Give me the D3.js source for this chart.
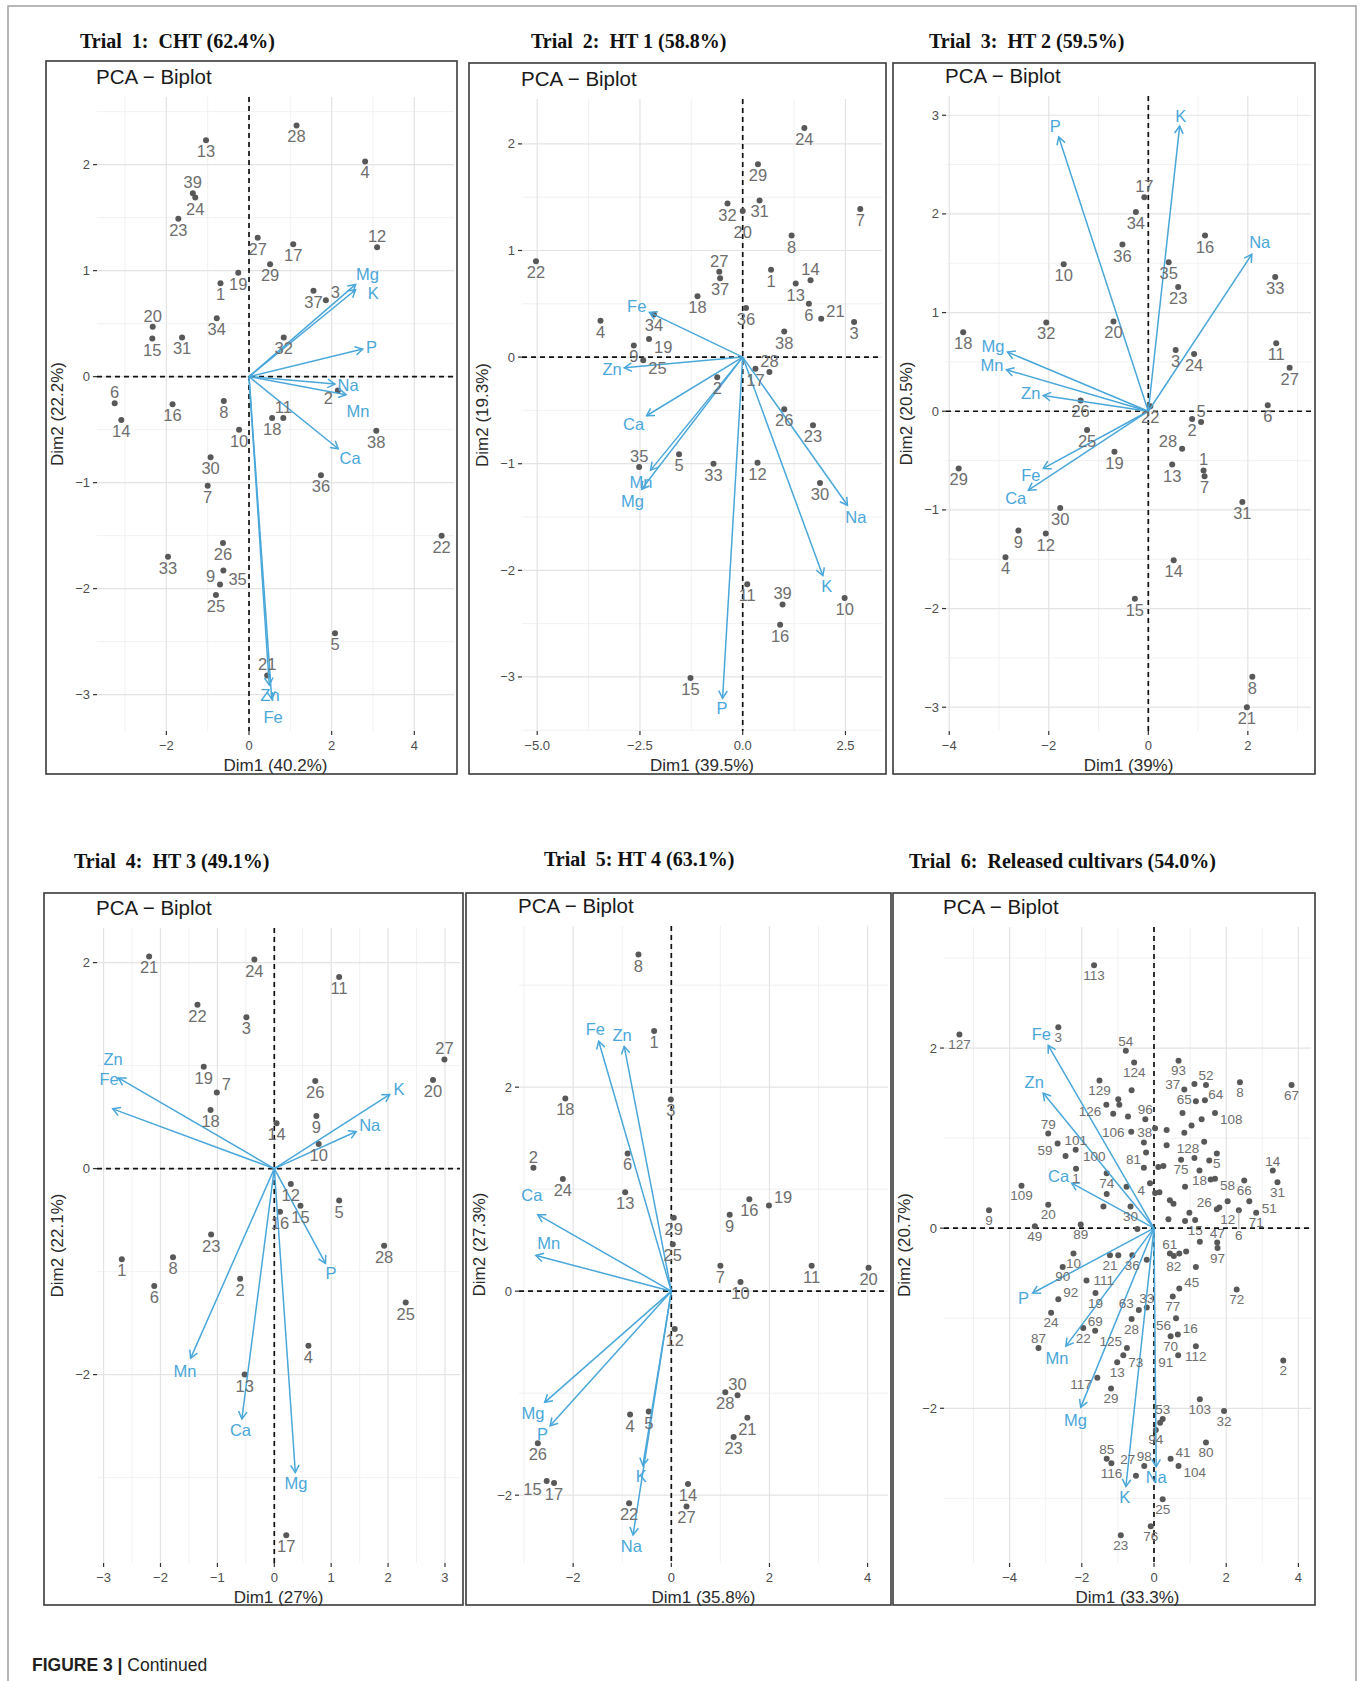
<!DOCTYPE html>
<html><head><meta charset="utf-8">
<script src="https://cdn.jsdelivr.net/npm/d3@7"></script>
<style>body{margin:0;background:#fff}svg{display:block}</style>
</head><body>
<svg id="fig" width="1363" height="1681"></svg>
<script>
// ---------------- DATA ----------------
const trial1Genotypes = ["28","13","4","39","24","23","27","17","12","19","29","1","37","3","34","20","15","31","32","2","6","14","16","8","18","11","10","38","36","30","7","26","35","9","25","33","22","5","21"];
const trial1Dim1 = [1.15,-1.04,2.81,-1.36,-1.30,-1.71,0.21,1.07,3.10,-0.26,0.51,-0.69,1.56,1.86,-0.78,-2.33,-2.34,-1.62,0.84,2.15,-3.25,-3.09,-1.85,-0.61,0.56,0.83,-0.24,3.08,1.74,-0.93,-1.00,-0.63,-0.62,-0.70,-0.80,-1.96,4.66,2.08,0.44];
const trial1Dim2 = [2.37,2.23,2.03,1.73,1.69,1.49,1.31,1.25,1.22,0.98,1.06,0.88,0.81,0.72,0.55,0.47,0.36,0.37,0.37,-0.13,-0.25,-0.41,-0.26,-0.23,-0.39,-0.39,-0.50,-0.51,-0.93,-0.76,-1.03,-1.57,-1.83,-1.96,-2.06,-1.70,-1.50,-2.42,-2.82];
const trial1Minerals = ["Mg","K","P","Na","Mn","Ca","Zn","Fe"];
const trial1MinDim1 = [2.58,2.58,2.75,2.08,2.35,2.16,0.49,0.55];
const trial1MinDim2 = [0.87,0.82,0.26,-0.07,-0.17,-0.68,-2.91,-3.04];
const trial1XTicks = [-2,0,2,4], trial1YTicks = [-3,-2,-1,0,1,2];

const trial2Genotypes = ["24","29","31","7","32","20","8","22","27","37","1","13","14","6","18","34","4","36","3","21","38","9","19","25","17","2","28","26","23","30","5","33","35","12","11","39","16","10","15"];
const trial2Dim1 = [1.50,0.37,0.41,2.86,-0.37,0.00,1.19,-5.03,-0.57,-0.55,0.69,1.29,1.65,1.61,-1.10,-2.16,-3.46,0.08,2.71,1.91,1.01,-2.65,-2.28,-2.42,0.31,-0.62,0.65,1.01,1.71,1.88,-1.55,-0.71,-2.52,0.36,0.11,0.97,0.91,2.48,-1.27];
const trial2Dim2 = [2.15,1.81,1.47,1.39,1.44,1.37,1.14,0.90,0.80,0.74,0.82,0.69,0.72,0.50,0.57,0.40,0.34,0.46,0.33,0.36,0.24,0.11,0.17,-0.03,-0.11,-0.19,-0.14,-0.49,-0.64,-1.18,-0.91,-1.00,-1.03,-0.99,-2.13,-2.32,-2.51,-2.26,-3.01];
const trial2Minerals = ["Fe","Zn","Ca","Mn","Mg","P","K","Na"];
const trial2MinDim1 = [-2.27,-2.88,-2.34,-2.24,-2.46,-0.49,1.95,2.55];
const trial2MinDim2 = [0.42,-0.10,-0.55,-1.06,-1.24,-3.20,-2.05,-1.39];
const trial2XTicks = [-5,-2.5,0,2.5], trial2YTicks = [-3,-2,-1,0,1,2];

const trial3Genotypes = ["17","34","36","16","35","10","33","23","20","32","18","11","3","24","27","6","26","22","25","2","5","28","29","19","13","1","7","30","31","9","12","4","14","15","8","21"];
const trial3Dim1 = [-0.08,-0.25,-0.52,1.14,0.41,-1.70,2.55,0.60,-0.70,-2.05,-3.72,2.57,0.55,0.92,2.84,2.40,-1.36,0.04,-1.23,0.88,1.06,0.68,-3.81,-0.68,0.48,1.11,1.13,-1.77,1.89,-2.61,-2.06,-2.87,0.51,-0.27,2.09,1.98];
const trial3Dim2 = [2.17,2.02,1.69,1.78,1.51,1.49,1.36,1.26,0.91,0.90,0.80,0.69,0.62,0.58,0.44,0.06,0.11,0.05,-0.19,-0.08,-0.11,-0.38,-0.58,-0.41,-0.54,-0.60,-0.66,-0.98,-0.92,-1.21,-1.24,-1.48,-1.51,-1.90,-2.69,-3.00];
const trial3Minerals = ["P","K","Na","Mg","Mn","Zn","Fe","Ca"];
const trial3MinDim1 = [-1.80,0.63,2.08,-2.83,-2.85,-2.11,-2.11,-2.41];
const trial3MinDim2 = [2.78,2.89,1.59,0.60,0.42,0.16,-0.58,-0.80];
const trial3XTicks = [-4,-2,0,2], trial3YTicks = [-3,-2,-1,0,1,2,3];

const trial4Genotypes = ["21","24","11","22","3","27","20","19","26","7","18","14","9","10","12","15","5","16","23","8","1","28","6","2","25","4","13","17"];
const trial4Dim1 = [-2.20,-0.35,1.14,-1.35,-0.49,2.99,2.79,-1.24,0.72,-1.01,-1.12,0.04,0.74,0.78,0.29,0.46,1.14,0.10,-1.11,-1.78,-2.68,1.93,-2.11,-0.60,2.31,0.60,-0.52,0.21];
const trial4Dim2 = [2.06,2.03,1.86,1.59,1.47,1.06,0.86,0.99,0.85,0.74,0.57,0.44,0.51,0.24,-0.15,-0.36,-0.31,-0.42,-0.64,-0.86,-0.88,-0.75,-1.14,-1.07,-1.30,-1.72,-2.00,-3.56];
const trial4Minerals = ["Zn","Fe","K","Na","P","Mn","Ca","Mg"];
const trial4MinDim1 = [-2.74,-2.84,2.03,1.44,0.90,-1.47,-0.57,0.37];
const trial4MinDim2 = [0.88,0.58,0.72,0.36,-0.92,-1.84,-2.43,-2.95];
const trial4XTicks = [-3,-2,-1,0,1,2,3], trial4YTicks = [-2,0,2];

const trial5Genotypes = ["8","1","3","18","6","2","24","13","29","25","16","19","9","7","10","11","20","12","28","30","21","23","5","4","26","15","17","14","22","27"];
const trial5Dim1 = [-0.67,-0.35,-0.01,-2.16,-0.89,-2.81,-2.21,-0.94,0.05,0.03,1.59,1.99,1.19,1.00,1.41,2.86,4.02,0.07,1.10,1.35,1.55,1.27,-0.46,-0.84,-2.72,-2.54,-2.39,0.34,-0.86,0.31];
const trial5Dim2 = [3.30,2.55,1.88,1.89,1.35,1.21,1.10,0.97,0.72,0.46,0.90,0.84,0.75,0.25,0.09,0.25,0.23,-0.37,-0.99,-1.02,-1.24,-1.43,-1.18,-1.21,-1.49,-1.86,-1.88,-1.89,-2.08,-2.11];
const trial5Minerals = ["Fe","Zn","Ca","Mn","Mg","P","K","Na"];
const trial5MinDim1 = [-1.48,-0.96,-2.72,-2.76,-2.58,-2.47,-0.58,-0.78];
const trial5MinDim2 = [2.45,2.40,0.75,0.35,-1.09,-1.32,-1.71,-2.39];
const trial5XTicks = [-2,0,2,4], trial5YTicks = [-2,0,2];

const trial6Genotypes = ["113","127","3","54","124","93","129","37","52","8","67","","65","","","126","64","","106","","96","","","108","","","","38","","79","59","101","100","128","","","81","5","75","","","1","","","","18","14","74","66","58","","31","109","4","","","","","","12","51","","","20","30","","26","","9","71","6","","15","","","89","49","","47","97","61","82","","","","","10","90","21","","36","","111","19","92","24","45","72","77","63","33","22","56","28","69","16","70","87","125","73","112","91","2","13","117","29","103","32","53","","94","80","85","116","41","98","27","104","25","76","23"];
const trial6Dim1 = [-1.66,-5.39,-2.65,-0.78,-0.55,0.68,-1.51,1.12,1.44,2.38,3.81,-0.62,0.84,-0.99,-0.96,-1.32,1.16,1.41,-1.13,-0.72,-0.24,0.79,1.32,1.69,1.04,0.03,0.35,-0.63,0.84,-2.93,-2.67,-2.17,-2.45,1.39,-0.28,0.35,-0.22,1.74,0.75,1.12,1.53,-2.16,-0.28,0.12,0.26,1.26,3.29,-1.31,2.50,1.69,1.57,3.42,-3.67,-0.11,-0.76,0.86,0.03,0.15,-1.31,2.04,2.64,0.44,0.54,-2.93,-0.65,-1.40,1.74,1.81,-4.57,2.83,2.35,0.98,1.14,0.40,0.86,-2.03,-3.30,-0.46,1.75,1.76,0.44,0.55,0.70,0.89,1.27,1.16,-2.23,-2.53,-1.22,-0.99,-0.60,-0.20,-1.87,-1.62,-2.65,-2.85,0.70,2.29,0.52,-0.42,-0.20,-1.96,0.61,-0.62,-1.63,0.66,0.46,-3.20,-0.75,-0.85,1.16,0.67,3.58,-1.02,-1.57,-1.19,1.27,1.94,0.24,0.17,0.05,1.44,-1.31,-1.18,0.46,-0.27,-0.50,0.68,0.24,-0.09,-0.92];
const trial6Dim2 = [2.92,2.15,2.23,1.97,1.84,1.86,1.64,1.60,1.59,1.62,1.59,1.53,1.54,1.43,1.37,1.37,1.41,1.42,1.27,1.24,1.21,1.28,1.21,1.28,1.14,1.11,1.09,1.07,1.06,1.05,0.94,0.87,0.80,0.96,0.95,0.92,0.84,0.83,0.76,0.78,0.75,0.66,0.67,0.68,0.69,0.64,0.64,0.61,0.53,0.55,0.54,0.51,0.47,0.50,0.46,0.46,0.39,0.40,0.38,0.30,0.30,0.31,0.27,0.26,0.24,0.24,0.21,0.23,0.20,0.17,0.20,0.17,0.09,0.10,0.08,0.04,0.02,-0.01,-0.16,-0.22,-0.28,-0.31,-0.28,-0.26,-0.15,-0.43,-0.28,-0.43,-0.30,-0.30,-0.30,-0.35,-0.58,-0.72,-0.79,-0.94,-0.67,-0.68,-0.76,-0.91,-0.88,-1.11,-1.00,-1.01,-1.14,-1.18,-1.20,-1.33,-1.33,-1.41,-1.31,-1.41,-1.47,-1.49,-1.66,-1.78,-1.90,-2.03,-2.12,-2.16,-2.24,-2.38,-2.56,-2.61,-2.56,-2.64,-2.75,-2.64,-3.01,-3.31,-3.41];
const trial6Minerals = ["Fe","Zn","Ca","P","Mn","Mg","K","Na"];
const trial6MinDim1 = [-2.93,-3.07,-2.28,-3.36,-2.44,-2.03,-0.78,0.06];
const trial6MinDim2 = [2.03,1.50,0.50,-0.72,-1.31,-1.99,-2.87,-2.65];
const trial6XTicks = [-4,-2,0,2,4], trial6YTicks = [-2,0,2];

const trialTitles = ["Trial  1:  CHT (62.4%)","Trial  2:  HT 1 (58.8%)","Trial  3:  HT 2 (59.5%)","Trial  4:  HT 3 (49.1%)","Trial  5: HT 4 (63.1%)","Trial  6:  Released cultivars (54.0%)"];
const dim1Labels = ["Dim1 (40.2%)","Dim1 (39.5%)","Dim1 (39%)","Dim1 (27%)","Dim1 (35.8%)","Dim1 (33.3%)"];
const dim2Labels = ["Dim2 (22.2%)","Dim2 (19.3%)","Dim2 (20.5%)","Dim2 (22.1%)","Dim2 (27.3%)","Dim2 (20.7%)"];

// ---------------- LAYOUT ----------------
const layout = [
  {title:[80,48], frame:[46,61,457,774], plot:[97,97,454,731], xDom:[-3.678,4.960], yDom:[-3.343,2.638], fs:16.5, xfmt:"d"},
  {title:[531,48], frame:[469,63,886,774], plot:[522,99,882,731], xDom:[-5.370,3.389], yDom:[-3.507,2.421], fs:16.5, xfmt:".1f"},
  {title:[929,48], frame:[893,63,1315,774], plot:[946,96,1311,731], xDom:[-4.065,3.269], yDom:[-3.241,3.195], fs:16.5, xfmt:"d"},
  {title:[74,868], frame:[44,893,463,1605], plot:[97,928,460,1563], xDom:[-3.116,3.264], yDom:[-3.829,2.336], fs:16.5, xfmt:"d"},
  {title:[544,866], frame:[466,893,891,1605], plot:[519,926,888,1563], xDom:[-3.104,4.416], yDom:[-2.665,3.580], fs:16.5, xfmt:"d"},
  {title:[909,868], frame:[893,893,1315,1605], plot:[944,927,1311,1563], xDom:[-5.817,4.349], yDom:[-3.718,3.344], fs:13.5, xfmt:"d"}
];
const trials = [
  [trial1Genotypes,trial1Dim1,trial1Dim2,trial1Minerals,trial1MinDim1,trial1MinDim2,trial1XTicks,trial1YTicks],
  [trial2Genotypes,trial2Dim1,trial2Dim2,trial2Minerals,trial2MinDim1,trial2MinDim2,trial2XTicks,trial2YTicks],
  [trial3Genotypes,trial3Dim1,trial3Dim2,trial3Minerals,trial3MinDim1,trial3MinDim2,trial3XTicks,trial3YTicks],
  [trial4Genotypes,trial4Dim1,trial4Dim2,trial4Minerals,trial4MinDim1,trial4MinDim2,trial4XTicks,trial4YTicks],
  [trial5Genotypes,trial5Dim1,trial5Dim2,trial5Minerals,trial5MinDim1,trial5MinDim2,trial5XTicks,trial5YTicks],
  [trial6Genotypes,trial6Dim1,trial6Dim2,trial6Minerals,trial6MinDim1,trial6MinDim2,trial6XTicks,trial6YTicks]
];

const SANS = "'Liberation Sans', Arial, Helvetica, sans-serif";
const SERIF = "'Liberation Serif', 'Times New Roman', serif";
const BLUE = "#4aa7da";
const svg = d3.select("#fig");

svg.append("path").attr("d","M8,1681V6H1356V1681").attr("fill","none").attr("stroke","#a0a0a0").attr("stroke-width",1.5);
svg.append("text").attr("x",32).attr("y",1671).attr("font-family",SANS).attr("font-size",17.5).attr("fill","#231f20")
  .call(t=>{t.append("tspan").attr("font-weight","bold").text("FIGURE 3 | ");t.append("tspan").text("Continued");});

function textW(s, fs){ // Arial-metric width estimate
  let w=0; for(const ch of s){ w += /[0-9]/.test(ch)?0.556: ({M:0.833,g:0.556,K:0.667,P:0.667,N:0.722,a:0.556,n:0.556,C:0.722,F:0.611,e:0.556,Z:0.611,z:0.5,m:0.833}[ch]||0.6);} return w*fs;
}
function overlap(a,b){const w=Math.min(a.x1,b.x1)-Math.max(a.x0,b.x0);const h=Math.min(a.y1,b.y1)-Math.max(a.y0,b.y0);return (w>0&&h>0)?w*h:0;}

function placeAll(items, placed, pts, bounds){
  items.forEach(it=>{
    let best=null,bestCost=Infinity;
    it.cands.forEach((c,i)=>{
      const cx=it.ax+c[0], cy=it.ay+c[1];
      const r={x0:cx-it.w/2,x1:cx+it.w/2,y0:cy-it.h/2,y1:cy+it.h/2};
      let cost=i*0.15+(c[2]?10*c[2]:0);
      for(const p of placed){ const o=overlap({x0:r.x0-1.5,x1:r.x1+1.5,y0:r.y0-1,y1:r.y1+1},p); if(o>0) cost+=80+o*5; }
      for(const q of pts){ if(q.x>r.x0-2.5&&q.x<r.x1+2.5&&q.y>r.y0-2&&q.y<r.y1+2) cost+=25; }
      const ob=Math.max(0,bounds[0]-r.x0)+Math.max(0,r.x1-bounds[2])+Math.max(0,bounds[1]-r.y0)+Math.max(0,r.y1-bounds[3]);
      cost+=ob*80;
      if(cost<bestCost){bestCost=cost;best={cx,cy,r,leader:c[2]};}
    });
    it.pos=best; placed.push(best.r);
  });
}

layout.forEach((L,k)=>{
  const [labs,d1,d2,mins,m1,m2,xt,yt]=trials[k];
  const g=svg.append("g");
  const [x0,y0,x1,y1]=L.plot;
  const x=d3.scaleLinear().domain(L.xDom).range([x0,x1]);
  const y=d3.scaleLinear().domain(L.yDom).range([y1,y0]);

  // titles
  g.append("text").attr("x",L.title[0]).attr("y",L.title[1]).attr("font-family",SERIF).attr("font-weight","bold")
    .attr("font-size",20).attr("fill","#111").style("white-space","pre").text(trialTitles[k]);
  g.append("rect").attr("x",L.frame[0]).attr("y",L.frame[1]).attr("width",L.frame[2]-L.frame[0]).attr("height",L.frame[3]-L.frame[1])
    .attr("fill","none").attr("stroke","#3a3a3a").attr("stroke-width",1.6);
  g.append("text").attr("x",x0-1).attr("y",y0-13).attr("font-family",SANS).attr("font-size",20.5).attr("fill","#1a1a1a").text("PCA − Biplot");

  // grid
  const minors=(ticks,dom)=>{const s=ticks[1]-ticks[0];const out=[];ticks.forEach(t=>out.push(t-s/2));out.push(ticks[ticks.length-1]+s/2);return out.filter(v=>v>dom[0]&&v<dom[1]);};
  const grid=g.append("g");
  minors(xt,L.xDom).forEach(v=>grid.append("line").attr("x1",x(v)).attr("x2",x(v)).attr("y1",y0).attr("y2",y1).attr("stroke","#eeeeee").attr("stroke-width",0.8));
  minors(yt,L.yDom).forEach(v=>grid.append("line").attr("y1",y(v)).attr("y2",y(v)).attr("x1",x0).attr("x2",x1).attr("stroke","#eeeeee").attr("stroke-width",0.8));
  xt.forEach(v=>grid.append("line").attr("x1",x(v)).attr("x2",x(v)).attr("y1",y0).attr("y2",y1).attr("stroke","#e3e3e3").attr("stroke-width",1.2));
  yt.forEach(v=>grid.append("line").attr("y1",y(v)).attr("y2",y(v)).attr("x1",x0).attr("x2",x1).attr("stroke","#e3e3e3").attr("stroke-width",1.2));

  // axes ticks + labels
  const xf=d3.format(L.xfmt), yf=d3.format("d");
  const ax=g.append("g").attr("font-family",SANS).attr("font-size",13).attr("fill","#4d4d4d");
  xt.forEach(v=>{
    ax.append("line").attr("x1",x(v)).attr("x2",x(v)).attr("y1",y1).attr("y2",y1+4).attr("stroke","#333").attr("stroke-width",1.2);
    ax.append("text").attr("x",x(v)).attr("y",y1+19).attr("text-anchor","middle").text(xf(v));
  });
  yt.forEach(v=>{
    ax.append("line").attr("x1",x0-4).attr("x2",x0).attr("y1",y(v)).attr("y2",y(v)).attr("stroke","#333").attr("stroke-width",1.2);
    ax.append("text").attr("x",x0-7).attr("y",y(v)+4.5).attr("text-anchor","end").text(yf(v));
  });
  g.append("text").attr("x",(x0+x1)/2).attr("y",y1+40).attr("text-anchor","middle").attr("font-family",SANS).attr("font-size",17).attr("fill","#2b2b2b").text(dim1Labels[k]);
  g.append("text").attr("transform",`translate(${x0-34},${(y0+y1)/2}) rotate(-90)`).attr("text-anchor","middle").attr("font-family",SANS).attr("font-size",17).attr("fill","#2b2b2b").text(dim2Labels[k]);

  // zero lines
  g.append("line").attr("x1",x0).attr("x2",x1).attr("y1",y(0)).attr("y2",y(0)).attr("stroke","#111").attr("stroke-width",1.7).attr("stroke-dasharray","5,4");
  g.append("line").attr("y1",y0).attr("y2",y1).attr("x1",x(0)).attr("x2",x(0)).attr("stroke","#111").attr("stroke-width",1.7).attr("stroke-dasharray","5,4");

  // points
  const pts=labs.map((l,i)=>({l,x:x(d1[i]),y:y(d2[i])}));
  g.append("g").selectAll("circle").data(pts).join("circle").attr("cx",d=>d.x).attr("cy",d=>d.y).attr("r",3).attr("fill","#585858");

  // arrows
  const ox=x(0), oy=y(0);
  const arr=g.append("g").attr("stroke",BLUE).attr("stroke-width",1.5).attr("fill","none");
  const vItems=[];
  mins.forEach((m,i)=>{
    const ex=x(m1[i]), ey=y(m2[i]);
    const ang=Math.atan2(ey-oy,ex-ox), hl=8.5, a=Math.PI/6;
    arr.append("line").attr("x1",ox).attr("y1",oy).attr("x2",ex).attr("y2",ey);
    arr.append("path").attr("d",`M${ex-hl*Math.cos(ang-a)},${ey-hl*Math.sin(ang-a)}L${ex},${ey}L${ex-hl*Math.cos(ang+a)},${ey-hl*Math.sin(ang+a)}`);
    const fs=16.5, w=textW(m,fs), h=fs*0.95;
    const ux=Math.cos(ang), uy=Math.sin(ang), px=-uy, py=ux;
    const kk=Math.abs(ux)*w/2+Math.abs(uy)*h/2+2;
    const cands=[[ux*kk,uy*kk],[ux*kk+px*h*0.9,uy*kk+py*h*0.9],[ux*kk-px*h*0.9,uy*kk-py*h*0.9],[ux*(kk+8),uy*(kk+8)],[ux*kk+px*h*1.7,uy*kk+py*h*1.7],[ux*kk-px*h*1.7,uy*kk-py*h*1.7],[-ux*kk*0.6+px*h,-uy*kk*0.6+py*h],[-ux*kk*0.6-px*h,-uy*kk*0.6-py*h]];
    vItems.push({m,ax:ex,ay:ey,w,h,fs,cands});
  });
  const placed=[];
  const bounds=[x0,y0,x1,y1];
  placeAll(vItems,placed,[],bounds);
  vItems.forEach(v=>g.append("text").attr("x",v.pos.cx).attr("y",v.pos.cy+0.36*v.fs).attr("text-anchor","middle").attr("font-family",SANS).attr("font-size",v.fs).attr("fill",BLUE).text(v.m));

  // point labels
  const fs=L.fs;
  const items=pts.filter(p=>p.l!=="").map(p=>{
    const w=textW(p.l,fs), h=fs*0.92;
    const dx=w/2+4, dy=h/2+3.5;
    const c=[[0,dy],[0,-dy],[-dx-1,dy-3],[dx+1,-dy+3],[-dx-1,-dy+3],[dx+1,dy-3],[dx+2,0],[-dx-2,0]];
    let all=c.slice();
    const ring=[]; for(let a=0;a<16;a++){const t=Math.PI/2+a*Math.PI/8; ring.push([Math.cos(t)*dx*1.25,Math.sin(t)*dy*1.25]);}
    [1.5,2.1,2.8,3.6,4.5].forEach((f,j)=>{ all=all.concat(ring.map(q=>[q[0]*f,q[1]*f,j+1])); });
    return {l:p.l,ax:p.x,ay:p.y,w,h,cands:all};
  });
  placeAll(items,placed,pts,bounds);
  const lg=g.append("g");
  items.forEach(it=>{
    if(it.pos.leader && it.pos.leader>1){
      const r=it.pos.r; const tx=Math.max(r.x0,Math.min(it.ax,r.x1)), ty=Math.max(r.y0,Math.min(it.ay,r.y1));
      lg.append("line").attr("x1",it.ax).attr("y1",it.ay).attr("x2",tx).attr("y2",ty).attr("stroke","#9a9a9a").attr("stroke-width",0.8);
    }
    lg.append("text").attr("x",it.pos.cx).attr("y",it.pos.cy+0.36*fs).attr("text-anchor","middle").attr("font-family",SANS).attr("font-size",fs).attr("fill","#6e6e6e").text(it.l);
  });
});
</script>
</body></html>
